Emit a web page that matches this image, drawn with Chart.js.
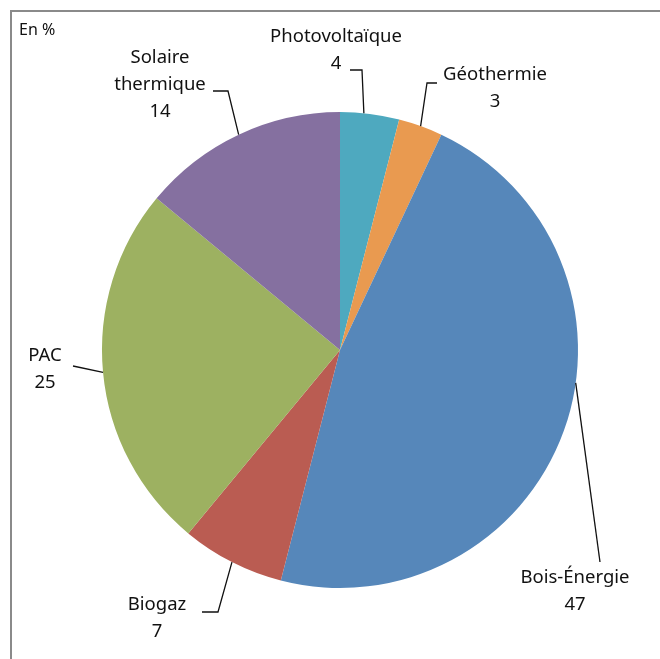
<!DOCTYPE html>
<html>
<head>
<meta charset="utf-8">
<script src="https://cdn.jsdelivr.net/npm/chart.js@4/dist/chart.umd.min.js"></script>
<style>
  html, body { margin: 0; padding: 0; background: #fff; }
  #wrap { width: 660px; height: 659px; }
</style>
</head>
<body>
<div id="wrap"><canvas id="chart" width="660" height="659"></canvas></div>
<script>
// data
const categories = ['Photovoltaïque', 'Géothermie', 'Bois-Énergie', 'Biogaz', 'PAC', 'Solaire thermique'];
const shares = [4, 3, 47, 7, 25, 14];
const sliceColors = ['#4EA9BF', '#E99A50', '#5687BA', '#BA5C52', '#9DB161', '#8570A0'];

// label placement (text lines centre, leader elbow, where on the slice the leader touches)
const labelLayout = [
  { lines: ['Photovoltaïque', '4'], x: 336, y: 37, elbow: [[350, 70], [362, 70]], at: 0.4 },
  { lines: ['Géothermie', '3'], x: 495, y: 75, elbow: [[437, 83], [427, 83]], at: 0.5 },
  { lines: ['Bois-Énergie', '47'], x: 575, y: 578, elbow: [[600, 562]], at: 0.43 },
  { lines: ['Biogaz', '7'], x: 157, y: 605, elbow: [[202, 612], [218, 612]], at: 0.5 },
  { lines: ['PAC', '25'], x: 45, y: 356, elbow: [[73, 366]], at: 0.5 },
  { lines: ['Solaire', 'thermique', '14'], x: 160, y: 58, elbow: [[213, 91], [228, 91]], at: 0.5 }
];

const FONT = '"Noto Sans", "Open Sans", sans-serif';

const labelsPlugin = {
  id: 'pieLabels',
  afterDraw(chart) {
    const ctx = chart.ctx;
    ctx.save();
    // frame
    ctx.strokeStyle = '#8a8a8a';
    ctx.lineWidth = 2;
    ctx.beginPath();
    ctx.moveTo(11, 659);
    ctx.lineTo(11, 11);
    ctx.lineTo(660, 11);
    ctx.stroke();

    ctx.fillStyle = '#111';
    ctx.font = '16px ' + FONT;
    ctx.textAlign = 'left';
    ctx.textBaseline = 'middle';
    ctx.fillText('En %', 19, 30);

    const meta = chart.getDatasetMeta(0);
    meta.data.forEach((arc, i) => {
      const lay = labelLayout[i];
      const p = arc.getProps(['x', 'y', 'startAngle', 'endAngle', 'outerRadius'], true);
      const a = p.startAngle + (p.endAngle - p.startAngle) * lay.at;
      const ex = p.x + Math.cos(a) * p.outerRadius;
      const ey = p.y + Math.sin(a) * p.outerRadius;

      ctx.strokeStyle = '#111';
      ctx.lineWidth = 1.3;
      ctx.beginPath();
      ctx.moveTo(lay.elbow[0][0], lay.elbow[0][1]);
      for (let k = 1; k < lay.elbow.length; k++) ctx.lineTo(lay.elbow[k][0], lay.elbow[k][1]);
      ctx.lineTo(ex, ey);
      ctx.stroke();

      ctx.fillStyle = '#111';
      ctx.font = '18.5px ' + FONT;
      ctx.textAlign = 'center';
      lay.lines.forEach((t, j) => {
        const txt = j === lay.lines.length - 1 ? String(shares[i]) : t;
        ctx.fillText(txt, lay.x, lay.y + j * 27);
      });
    });
    ctx.restore();
  }
};

new Chart(document.getElementById('chart'), {
  type: 'pie',
  data: {
    labels: categories,
    datasets: [{
      data: shares,
      backgroundColor: sliceColors,
      borderWidth: 0
    }]
  },
  options: {
    responsive: false,
    animation: false,
    layout: { padding: { left: 102, right: 82, top: 112, bottom: 71 } },
    plugins: {
      legend: { display: false },
      tooltip: { enabled: false }
    }
  },
  plugins: [labelsPlugin]
});
</script>
</body>
</html>
